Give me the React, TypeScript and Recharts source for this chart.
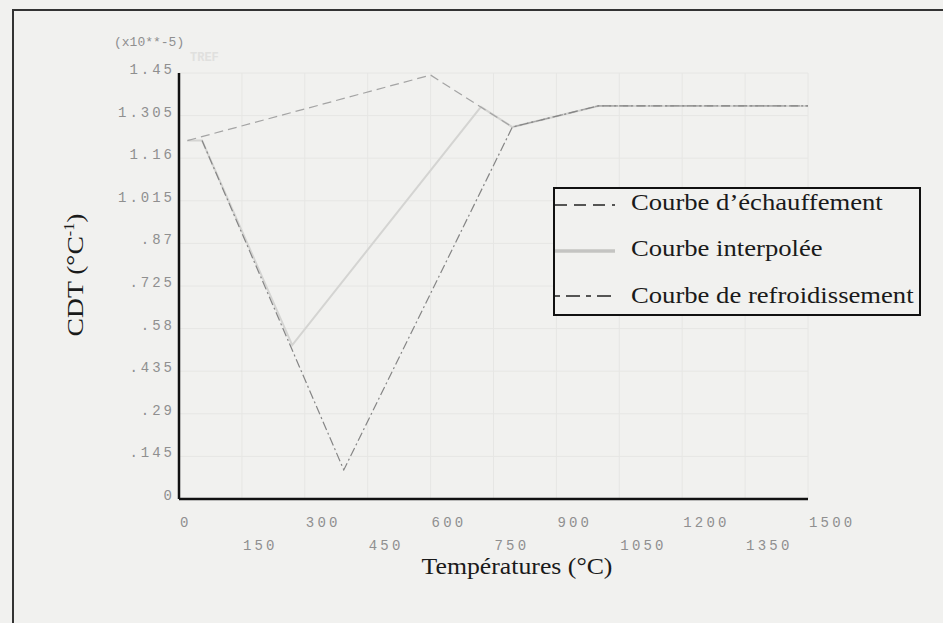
import React from 'react';
import { LineChart, Line, XAxis, YAxis, CartesianGrid } from 'recharts';

// heating curve (dashed)
const heatingTemps = [20, 600, 795, 1000, 1500];
const heatingCdt = [1.22, 1.443, 1.266, 1.338, 1.338];

// interpolated curve (light solid)
const interpTemps = [20, 55, 270, 720, 795, 1000, 1500];
const interpCdt = [1.22, 1.22, 0.524, 1.335, 1.266, 1.338, 1.338];

// cooling curve (dash-dot)
const coolingTemps = [55, 393, 795, 1000, 1500];
const coolingCdt = [1.22, 0.099, 1.266, 1.338, 1.338];

const xTicks = [0, 150, 300, 450, 600, 750, 900, 1050, 1200, 1350, 1500];
const yTicks = [0, 0.145, 0.29, 0.435, 0.58, 0.725, 0.87, 1.015, 1.16, 1.305, 1.45];
const yTickLabels = ['0', '.145', '.29', '.435', '.58', '.725', '.87', '1.015', '1.16', '1.305', '1.45'];

const toPoints = (temps: number[], vals: number[]) => temps.map((t, i) => ({ t, v: vals[i] }));

const heating = toPoints(heatingTemps, heatingCdt);
const interp = toPoints(interpTemps, interpCdt);
const cooling = toPoints(coolingTemps, coolingCdt);

const mono = '"Liberation Mono", "DejaVu Sans Mono", monospace';
const serif = '"Liberation Serif", "Times New Roman", serif';

const XTick = ({ x, payload, index }: any) => (
  <text x={x + 1} y={index % 2 === 0 ? 527 : 550} fontFamily={mono} fontSize={14} letterSpacing={3.2} fill="#8f8f8f" textAnchor="start">
    {payload.value}
  </text>
);

const YTick = ({ x, y, payload }: any) => {
  const i = yTicks.indexOf(payload.value);
  return (
    <text x={x + 3} y={y + 1} fontFamily={mono} fontSize={14} letterSpacing={3} fill="#8f8f8f" textAnchor="end">
      {yTickLabels[i] ?? payload.value}
    </text>
  );
};

const LegendRow = ({ top, label, sample }: { top: number; label: string; sample: React.ReactNode }) => (
  <div style={{ position: 'absolute', left: 0, top, height: 30, width: 366 }}>
    <svg width={70} height={30} style={{ position: 'absolute', left: 0, top: 0 }}>{sample}</svg>
    <span
      style={{
        position: 'absolute',
        left: 76,
        top: 0,
        fontFamily: serif,
        fontSize: 24,
        color: '#1a1a1a',
        whiteSpace: 'nowrap',
        transform: 'scaleX(1.11)',
        transformOrigin: 'left center',
      }}
    >
      {label}
    </span>
  </div>
);

export default function App() {
  return (
    <div style={{ position: 'absolute', left: 0, top: 0, width: 943, height: 623, background: '#f1f1ef', overflow: 'hidden' }}>
      {/* outer frame */}
      <div style={{ position: 'absolute', left: 12, top: 9, width: 940, height: 640, borderLeft: '2px solid #333', borderTop: '2px solid #333' }} />

      <LineChart
        width={943}
        height={623}
        margin={{ top: 73, right: 135, bottom: 94, left: 119 }}
        style={{ position: 'absolute', left: 0, top: 0 }}
      >
        <CartesianGrid stroke="#e6e6e4" strokeWidth={1} />
        <XAxis
          type="number"
          dataKey="t"
          domain={[0, 1500]}
          ticks={xTicks}
          interval={0}
          tickLine={false}
          axisLine={{ stroke: '#111', strokeWidth: 2.5 }}
          tick={<XTick />}
          height={30}
          allowDataOverflow
        />
        <YAxis
          type="number"
          domain={[0, 1.45]}
          ticks={yTicks}
          interval={0}
          tickLine={false}
          tickSize={0}
          tickMargin={7}
          axisLine={{ stroke: '#111', strokeWidth: 2.5 }}
          tick={<YTick />}
          width={60}
        />
        <Line data={interp} dataKey="v" type="linear" stroke="#d4d4d2" strokeWidth={2} dot={false} isAnimationActive={false} />
        <Line data={heating} dataKey="v" type="linear" stroke="#a4a4a4" strokeWidth={1.2} strokeDasharray="9 5" dot={false} isAnimationActive={false} />
        <Line data={cooling} dataKey="v" type="linear" stroke="#858585" strokeWidth={1.2} strokeDasharray="9 3 2 3" dot={false} isAnimationActive={false} />
      </LineChart>

      {/* axis annotations */}
      <div style={{ position: 'absolute', left: 114, top: 35, fontFamily: mono, fontSize: 13, color: '#8f8f8f' }}>(x10**-5)</div>
      <div style={{ position: 'absolute', left: 190, top: 51, fontFamily: mono, fontSize: 12, fontWeight: 'bold', color: '#e0e0de' }}>TREF</div>

      <div
        style={{
          position: 'absolute',
          left: 75,
          top: 275,
          transform: 'translate(-50%, -50%) rotate(-90deg) scaleX(1.15)',
          fontFamily: serif,
          fontSize: 24,
          color: '#1a1a1a',
          whiteSpace: 'nowrap',
        }}
      >
        CDT (°C<sup style={{ fontSize: 14 }}>-1</sup>)
      </div>

      <div
        style={{
          position: 'absolute',
          left: 517,
          top: 567,
          transform: 'translate(-50%, -50%) scaleX(1.12)',
          fontFamily: serif,
          fontSize: 23,
          color: '#1a1a1a',
          whiteSpace: 'nowrap',
        }}
      >
        Températures (°C)
      </div>

      {/* legend */}
      <div style={{ position: 'absolute', left: 553, top: 187, width: 364, height: 125, border: '2px solid #111', background: '#f1f1ef' }}>
        <LegendRow
          top={0}
          label="Courbe d’échauffement"
          sample={<line x1={0} y1={16} x2={60} y2={16} stroke="#222" strokeWidth={1.3} strokeDasharray="12 7" />}
        />
        <LegendRow
          top={46}
          label="Courbe interpolée"
          sample={<line x1={0} y1={16} x2={60} y2={16} stroke="#c4c4c2" strokeWidth={3.5} />}
        />
        <LegendRow
          top={93}
          label="Courbe de refroidissement"
          sample={<line x1={0} y1={14} x2={60} y2={14} stroke="#222" strokeWidth={1.3} strokeDasharray="5 6 14 6" />}
        />
      </div>
    </div>
  );
}
